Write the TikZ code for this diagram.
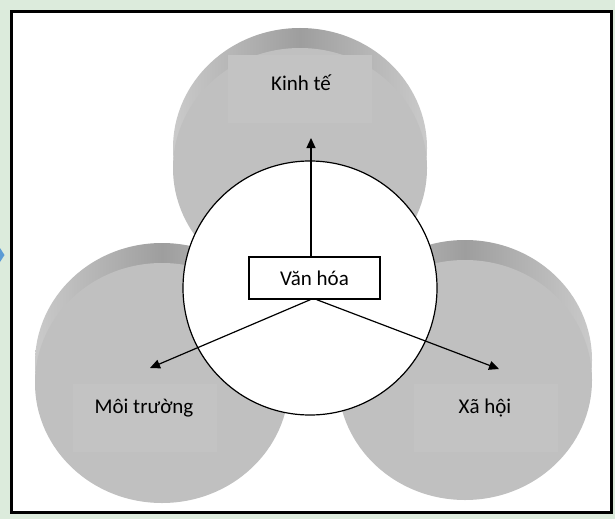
\documentclass[tikz,border=0pt]{standalone}
\usepackage{fontspec}
\setmainfont{Carlito}
\usetikzlibrary{arrows.meta,calc,positioning}
\definecolor{bgGreen}{HTML}{DCEBDC}
\definecolor{discFace}{HTML}{C0C0C0}
\definecolor{discRim}{HTML}{9E9E9E}
\definecolor{discEdge}{HTML}{CACACA}
\definecolor{tagGray}{HTML}{C3C3C3}
\definecolor{tabBlue}{HTML}{5B9BD5}

\begin{document}
\begin{tikzpicture}[x=0.5pt,y=-0.5pt,font=\fontsize{10.5}{12}\selectfont,
  tag/.style={fill=tagGray,minimum width=72pt,minimum height=34pt,inner sep=0},
  link/.style={line width=0.6pt,-{Triangle[length=5pt,width=4.5pt]}}]
\useasboundingbox (0,0) rectangle (615,519);
\fill[bgGreen] (0,0) rectangle (615,519);
\fill[tabBlue] (0,248) -- (4.5,255) -- (0,262) -- cycle;
\draw[line width=1.5pt,fill=white] (11,12) rectangle (611,512);
\foreach \cx/\cy in {300/168,162/383,465/380} {
  \shade[left color=discEdge,right color=discEdge,middle color=discRim] (\cx,\cy-20) ellipse (127 and 120);
  \fill[discFace] (\cx,\cy) ellipse (127 and 120);
}
\node[tag] (kinhbox) at (300,89) {};
\node[tag] (moibox) at (145,418) {};
\node[tag] (xabox) at (486,418) {};
\node (kinh) at (301,83) {Kinh tế};
\node (moi) at (144,408) {Môi trường};
\node (xa) at (485,408) {Xã hội};
\node[circle,draw,fill=white,line width=0.6pt,minimum size=127pt,inner sep=0] (hub) at (310,288) {};
\node[draw,fill=white,line width=0.6pt,minimum width=65.5pt,minimum height=21pt,inner sep=0] (vanhoa) at (314.5,278) {Văn hóa};
\coordinate (tipKinh) at (311,138);
\coordinate (tipMoi) at (150,368);
\coordinate (tipXa) at (499,369);
\draw[link] (vanhoa.north -| tipKinh) -- (tipKinh);
\draw[link] ($(vanhoa.south)+(-4,0)$) -- (tipMoi);
\draw[link] ($(vanhoa.south)+(2,0)$) -- (tipXa);
\end{tikzpicture}
\end{document}
